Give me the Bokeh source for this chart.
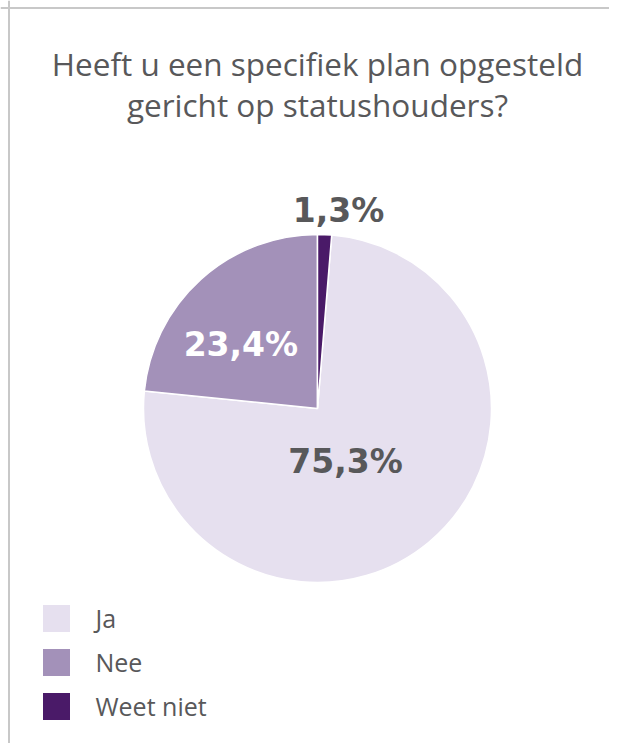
import math
from bokeh.plotting import figure
from bokeh.models import Range1d, Span, Label, ColumnDataSource
from bokeh.core.properties import value
from bokeh.embed import file_html
from bokeh.resources import INLINE

# ---- data ----
title_lines = ["Heeft u een specifiek plan opgesteld", "gericht op statushouders?"]
categories = ["Ja", "Nee", "Weet niet"]
percentages = [75.3, 23.4, 1.3]
labels = ["75,3%", "23,4%", "1,3%"]
colors = ["#e6e0ef", "#a391b9", "#4a1a68"]

# ---- style ----
W, H = 609, 743
TEXT = "#58585a"
draw_order = [2, 0, 1]            # clockwise from 12 o'clock: Weet niet, Ja, Nee
label_colors = [TEXT, "#ffffff", TEXT]
label_radius = [60, 100, 199]
label_angle_delta = [-12.0, 7.9, -3.7]

def sx(x):
    return x
def sy(y):
    return H - y

p = figure(width=W, height=H, output_backend="svg", toolbar_location=None,
           x_range=Range1d(0, W), y_range=Range1d(0, H), min_border=0)
p.axis.visible = False
p.grid.visible = False
p.outline_line_color = None
p.background_fill_color = "white"
p.border_fill_color = "white"

# frame lines (top and left)
p.add_layout(Span(location=sy(7.5), dimension="width", line_color="#c8c8c8", line_width=2))
p.add_layout(Span(location=sx(8.5), dimension="height", line_color="#c8c8c8", line_width=2))

# title
for i, t in enumerate(title_lines):
    p.add_layout(Label(x=sx(317), y=sy(63 + 41 * i), text=t, text_align="center",
                       text_baseline="middle", text_font="Open Sans",
                       text_font_size="31.5px", text_color=TEXT))

# pie
cx, cy, r = sx(317), sy(408), 174
total = sum(percentages)
start = {}
end = {}
cum = 0.0
for i in draw_order:
    a0 = math.pi / 2 - cum / total * 2 * math.pi
    cum += percentages[i]
    a1 = math.pi / 2 - cum / total * 2 * math.pi
    start[i] = a0
    end[i] = a1

src = ColumnDataSource(dict(
    cat=categories,
    start=[start[i] for i in range(len(categories))],
    end=[end[i] for i in range(len(categories))],
    color=colors,
))
p.wedge(x=cx, y=cy, radius=r, start_angle="start", end_angle="end", direction="clock",
        fill_color="color", line_color="white", line_width=1.5, source=src)

# slice labels
lx, ly = [], []
for i in range(len(categories)):
    mid = (start[i] + end[i]) / 2 + math.radians(label_angle_delta[i])
    lx.append(cx + label_radius[i] * math.cos(mid))
    ly.append(cy + label_radius[i] * math.sin(mid))
p.text(x=lx, y=ly, text=labels, text_color=label_colors, text_align="center",
       text_baseline="middle", text_font=value("DejaVu Sans"), text_font_style="bold",
       text_font_size="33px")

# legend
leg_y = [sy(618 + 44 * i) for i in range(len(categories))]
p.rect(x=[sx(56)] * len(categories), y=leg_y, width=27, height=27,
       width_units="screen", height_units="screen", fill_color=colors, line_color=None)
p.text(x=[sx(95)] * len(categories), y=[v + 1 for v in leg_y], text=categories,
       text_color=TEXT, text_align="left", text_baseline="middle",
       text_font=value("Open Sans"), text_font_size="25px")

open("out.html", "w").write(file_html(p, INLINE))
